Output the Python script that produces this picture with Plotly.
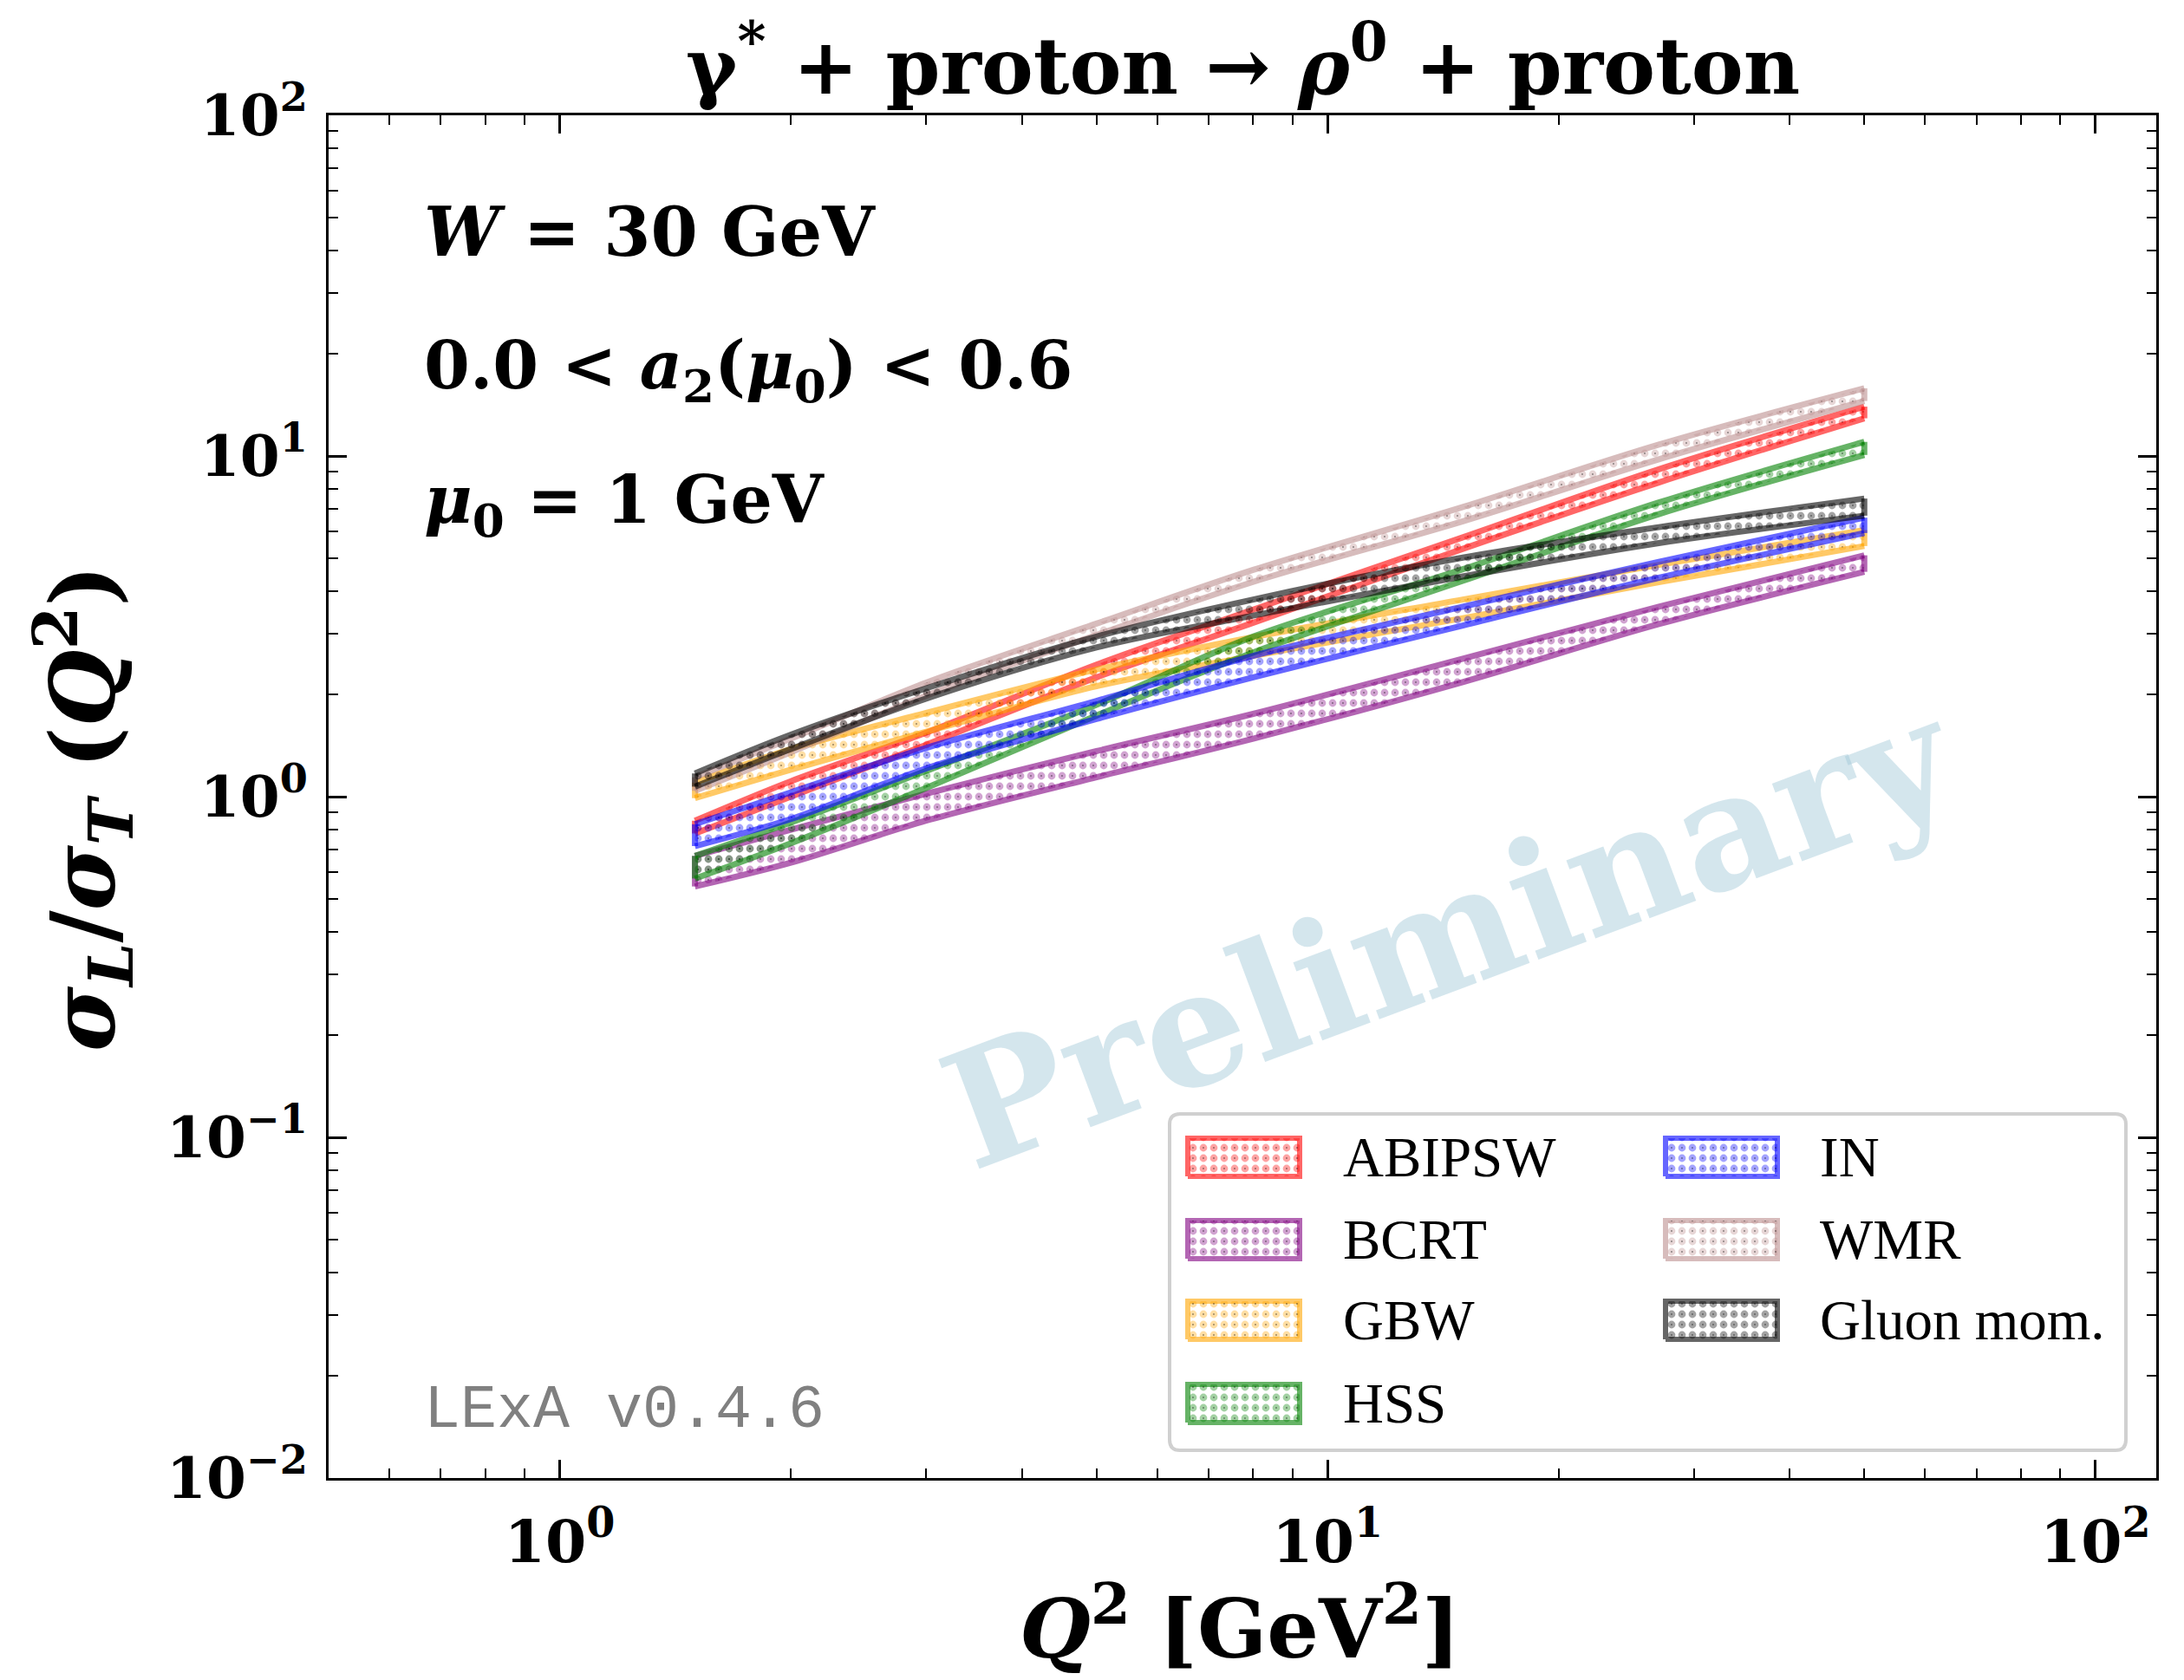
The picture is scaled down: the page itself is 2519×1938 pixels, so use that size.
import math
import plotly.graph_objects as go

# Q^2 grid [GeV^2] and sigma_L/sigma_T bands (upper / lower edge) per model
Q2 = [1.5, 2.0, 3.0, 5.0, 8.0, 15.0, 27.0, 50.0]

abipsw_hi = [0.85, 1.11, 1.54, 2.44, 3.54, 5.77, 9.14, 13.96]
abipsw_lo = [0.78, 1.00, 1.42, 2.24, 3.24, 5.34, 8.36, 12.90]

bcrt_hi = [0.67, 0.80, 1.02, 1.36, 1.75, 2.54, 3.61, 5.11]
bcrt_lo = [0.545, 0.64, 0.85, 1.14, 1.48, 2.17, 3.21, 4.57]

gbw_hi = [1.10, 1.38, 1.76, 2.36, 2.94, 3.79, 4.79, 6.06]
gbw_lo = [0.99, 1.20, 1.55, 2.11, 2.59, 3.34, 4.26, 5.44]

hss_hi = [0.67, 0.84, 1.19, 1.86, 2.95, 4.65, 7.30, 11.00]
hss_lo = [0.575, 0.73, 1.06, 1.73, 2.65, 4.30, 6.75, 10.07]

in_hi = [0.83, 1.03, 1.39, 1.91, 2.59, 3.61, 4.89, 6.59]
in_lo = [0.716, 0.86, 1.21, 1.69, 2.24, 3.18, 4.39, 5.94]

wmr_hi = [1.14, 1.48, 2.16, 3.22, 4.63, 7.08, 10.80, 15.80]
wmr_lo = [1.04, 1.35, 1.98, 2.98, 4.27, 6.43, 9.78, 14.50]

gluon_hi = [1.17, 1.52, 2.08, 2.95, 3.79, 5.03, 6.18, 7.50]
gluon_lo = [1.07, 1.38, 1.94, 2.74, 3.40, 4.43, 5.55, 6.68]

model_names = ["ABIPSW", "BCRT", "GBW", "HSS", "IN", "WMR", "Gluon mom."]
model_rgb = [
    (255, 0, 0),
    (128, 0, 128),
    (255, 165, 0),
    (0, 128, 0),
    (0, 0, 255),
    (188, 143, 143),
    (0, 0, 0),
]
model_lo = [abipsw_lo, bcrt_lo, gbw_lo, hss_lo, in_lo, wmr_lo, gluon_lo]
model_hi = [abipsw_hi, bcrt_hi, gbw_hi, hss_hi, in_hi, wmr_hi, gluon_hi]

x_ticks = [1, 10, 100]
x_tick_text = ["10<sup>0</sup>", "10<sup>1</sup>", "10<sup>2</sup>"]
y_ticks = [0.01, 0.1, 1, 10, 100]
y_tick_text = ["10<sup>−2</sup>", "10<sup>−1</sup>", "10<sup>0</sup>",
               "10<sup>1</sup>", "10<sup>2</sup>"]

# ---- canvas geometry (pixels) ----
W, H = 2519, 1938
L, R, T, B = 379, 2487, 133, 1705          # plot-area edges
PW, PH = R - L, B - T


def px(xp):
    return (xp - L) / PW


def py(yp):
    return (B - yp) / PH


def rgba(rgb, a):
    return f"rgba({rgb[0]},{rgb[1]},{rgb[2]},{a})"


SERIF = "DejaVu Serif"
LEG_FONT = "Liberation Serif"
MONO = "Liberation Mono"

PAT_SIZE = 12
PAT_SOLID = 0.42
DOT_SOLID = 0.02
EDGE_W = 7
SMOOTH = 0.9
EDGE_A = 0.6
HATCH_A = 0.72
CENTRE = "rgba(0,0,0,0.85)"


def pattern(color, solidity):
    return dict(shape=".", fgcolor=color, bgcolor="rgba(0,0,0,0)",
                size=PAT_SIZE, solidity=solidity, fillmode="overlay")


def band_traces(lo, hi, rgb):
    """Smooth hatched band between lo and hi with a closed outline."""
    traces = []
    for fg, sol in ((rgba(rgb, HATCH_A), PAT_SOLID), (CENTRE, DOT_SOLID)):
        traces.append(go.Scatter(
            x=Q2, y=lo, mode="lines",
            line=dict(width=0, shape="spline", smoothing=SMOOTH),
            showlegend=False, hoverinfo="skip"))
        traces.append(go.Scatter(
            x=Q2, y=hi, mode="lines", fill="tonexty",
            fillcolor="rgba(0,0,0,0)", fillpattern=pattern(fg, sol),
            line=dict(width=0, shape="spline", smoothing=SMOOTH),
            showlegend=False, hoverinfo="skip"))
    ox = list(Q2) + [None] + list(Q2) + [None] + [Q2[0], Q2[0]] + [None] + [Q2[-1], Q2[-1]]
    oy = list(hi) + [None] + list(lo) + [None] + [lo[0], hi[0]] + [None] + [lo[-1], hi[-1]]
    traces.append(go.Scatter(
        x=ox, y=oy, mode="lines", connectgaps=False,
        line=dict(color=rgba(rgb, EDGE_A), width=EDGE_W, shape="spline",
                  smoothing=SMOOTH),
        showlegend=False, hoverinfo="skip"))
    return traces


def patch_traces(xs, ys, rgb):
    """Legend swatch: hatched rectangle on the legend helper axes."""
    out = []
    for fg, sol, lw in ((rgba(rgb, HATCH_A), PAT_SOLID, 6), (CENTRE, DOT_SOLID, 0)):
        out.append(go.Scatter(
            x=xs, y=ys, mode="lines", fill="toself",
            fillcolor="rgba(0,0,0,0)", fillpattern=pattern(fg, sol),
            line=dict(color=rgba(rgb, EDGE_A) if lw else "rgba(0,0,0,0)", width=lw),
            xaxis="x2", yaxis="y2", showlegend=False, hoverinfo="skip"))
    return out


fig = go.Figure()
for lo, hi, rgb in zip(model_lo, model_hi, model_rgb):
    for tr in band_traces(lo, hi, rgb):
        fig.add_trace(tr)

# ---- hand-built two-column legend on a helper subplot ----
LEG_X0, LEG_X1, LEG_Y0, LEG_Y1 = 1346, 2455, 1282, 1676
LW, LH = LEG_X1 - LEG_X0, LEG_Y1 - LEG_Y0
row_y = [LEG_Y1 - 1335, LEG_Y1 - 1430, LEG_Y1 - 1523, LEG_Y1 - 1619]
col_patch_x = [(1370 - LEG_X0, 1499 - LEG_X0), (1921 - LEG_X0, 2050 - LEG_X0)]
col_text_x = [1547 - LEG_X0, 2097 - LEG_X0]
half_h = 22

annotations = []
for i, (name, rgb) in enumerate(zip(model_names, model_rgb)):
    c, r = (0, i) if i < 4 else (1, i - 4)
    x0, x1 = col_patch_x[c]
    yc = row_y[r]
    xs = [x0, x1, x1, x0, x0]
    ys = [yc - half_h, yc - half_h, yc + half_h, yc + half_h, yc - half_h]
    for tr in patch_traces(xs, ys, rgb):
        fig.add_trace(tr)
    annotations.append(dict(
        x=col_text_x[c], y=yc, xref="x2", yref="y2", text=name,
        showarrow=False, xanchor="left", yanchor="middle",
        font=dict(family=LEG_FONT, size=65, color="black")))

rr = 12
ins = 3
fx0, fy0, fx1, fy1 = ins, ins, LW - ins, LH - ins
frame_path = (f"M {fx0 + rr},{fy0} L {fx1 - rr},{fy0} Q {fx1},{fy0} {fx1},{fy0 + rr} "
              f"L {fx1},{fy1 - rr} Q {fx1},{fy1} {fx1 - rr},{fy1} "
              f"L {fx0 + rr},{fy1} Q {fx0},{fy1} {fx0},{fy1 - rr} "
              f"L {fx0},{fy0 + rr} Q {fx0},{fy0} {fx0 + rr},{fy0} Z")

shapes = [dict(type="path", path=frame_path, xref="x2", yref="y2",
               line=dict(color="rgb(208,208,208)", width=4),
               fillcolor="white", layer="below")]

# ---- text labels ----
annotations += [
    dict(x=0.5, y=py(70), xref="paper", yref="paper",
         text="<b>γ<sup>*</sup> + proton → <i>ρ</i><sup>0</sup> + proton</b>",
         showarrow=False, xanchor="center", yanchor="middle",
         font=dict(family=SERIF, size=90, color="black")),
    dict(x=px(1430), y=py(1872), xref="paper", yref="paper",
         text="<b><i>Q</i><sup>2</sup> [GeV<sup>2</sup>]</b>",
         showarrow=False, xanchor="center", yanchor="middle",
         font=dict(family=SERIF, size=94, color="black")),
    dict(x=px(96), y=py(932), xref="paper", yref="paper",
         text="<b><i>σ<sub>L</sub></i>/<i>σ<sub>T</sub></i> (<i>Q</i><sup>2</sup>)</b>",
         showarrow=False, xanchor="center", yanchor="middle", textangle=-90,
         font=dict(family=SERIF, size=102, color="black")),
    dict(x=px(487), y=py(267), xref="paper", yref="paper",
         text="<b><i>W</i> = 30 GeV</b>",
         showarrow=False, xanchor="left", yanchor="middle",
         font=dict(family=SERIF, size=78, color="black")),
    dict(x=px(487), y=py(427), xref="paper", yref="paper",
         text="<b>0.0 < <i>a</i><sub>2</sub>(<i>μ</i><sub>0</sub>) < 0.6</b>",
         showarrow=False, xanchor="left", yanchor="middle",
         font=dict(family=SERIF, size=76, color="black")),
    dict(x=px(487), y=py(582), xref="paper", yref="paper",
         text="<b><i>μ</i><sub>0</sub> = 1 GeV</b>",
         showarrow=False, xanchor="left", yanchor="middle",
         font=dict(family=SERIF, size=76, color="black")),
    dict(x=px(487), y=py(1627), xref="paper", yref="paper",
         text="LExA v0.4.6",
         showarrow=False, xanchor="left", yanchor="middle",
         font=dict(family=MONO, size=70, color="rgb(128,128,128)")),
    dict(x=px(1672), y=py(1076), xref="paper", yref="paper",
         text="<b>Preliminary</b>", textangle=-20.5,
         showarrow=False, xanchor="center", yanchor="middle",
         font=dict(family=SERIF, size=185, color="rgba(160,200,215,0.45)")),
]

# ---- axes ----
x_minor = [k * 10 ** e for e in range(-1, 3) for k in range(2, 10)
           if 0.5 <= k * 10 ** e <= 120]
y_minor = [k * 10 ** e for e in range(-2, 2) for k in range(2, 10)]

axis_common = dict(
    type="log", showline=True, linecolor="black", linewidth=3,
    mirror="allticks", ticks="inside", ticklen=21, tickwidth=3,
    tickcolor="black", showgrid=False, zeroline=False, tickmode="array",
)

xaxis = dict(axis_common, range=[math.log10(0.5), math.log10(120)],
             tickvals=x_ticks, ticktext=[f"<b>{t}</b>" for t in x_tick_text],
             tickfont=dict(family=SERIF, size=68, color="black"),
             ticklabelstandoff=12,
             minor=dict(tickmode="array", tickvals=x_minor, ticks="inside",
                        ticklen=11, tickwidth=2, tickcolor="black",
                        showgrid=False))
yaxis = dict(axis_common, range=[-2, 2],
             tickvals=y_ticks, ticktext=[f"<b>{t}</b>" for t in y_tick_text],
             tickfont=dict(family=SERIF, size=66, color="black"),
             ticklabelstandoff=8,
             minor=dict(tickmode="array", tickvals=y_minor, ticks="inside",
                        ticklen=11, tickwidth=2, tickcolor="black",
                        showgrid=False))

xaxis2 = dict(domain=[px(LEG_X0), px(LEG_X1)], range=[0, LW], visible=False,
              anchor="y2", fixedrange=True, showgrid=False, zeroline=False)
yaxis2 = dict(domain=[py(LEG_Y1), py(LEG_Y0)], range=[0, LH], visible=False,
              anchor="x2", fixedrange=True, showgrid=False, zeroline=False)

fig.update_layout(
    width=W, height=H,
    margin=dict(l=L, r=W - R, t=T, b=H - B, pad=0),
    paper_bgcolor="white", plot_bgcolor="rgba(0,0,0,0)",
    showlegend=False,
    xaxis=xaxis, yaxis=yaxis, xaxis2=xaxis2, yaxis2=yaxis2,
    annotations=annotations, shapes=shapes,
)

fig.write_html("out.html")
